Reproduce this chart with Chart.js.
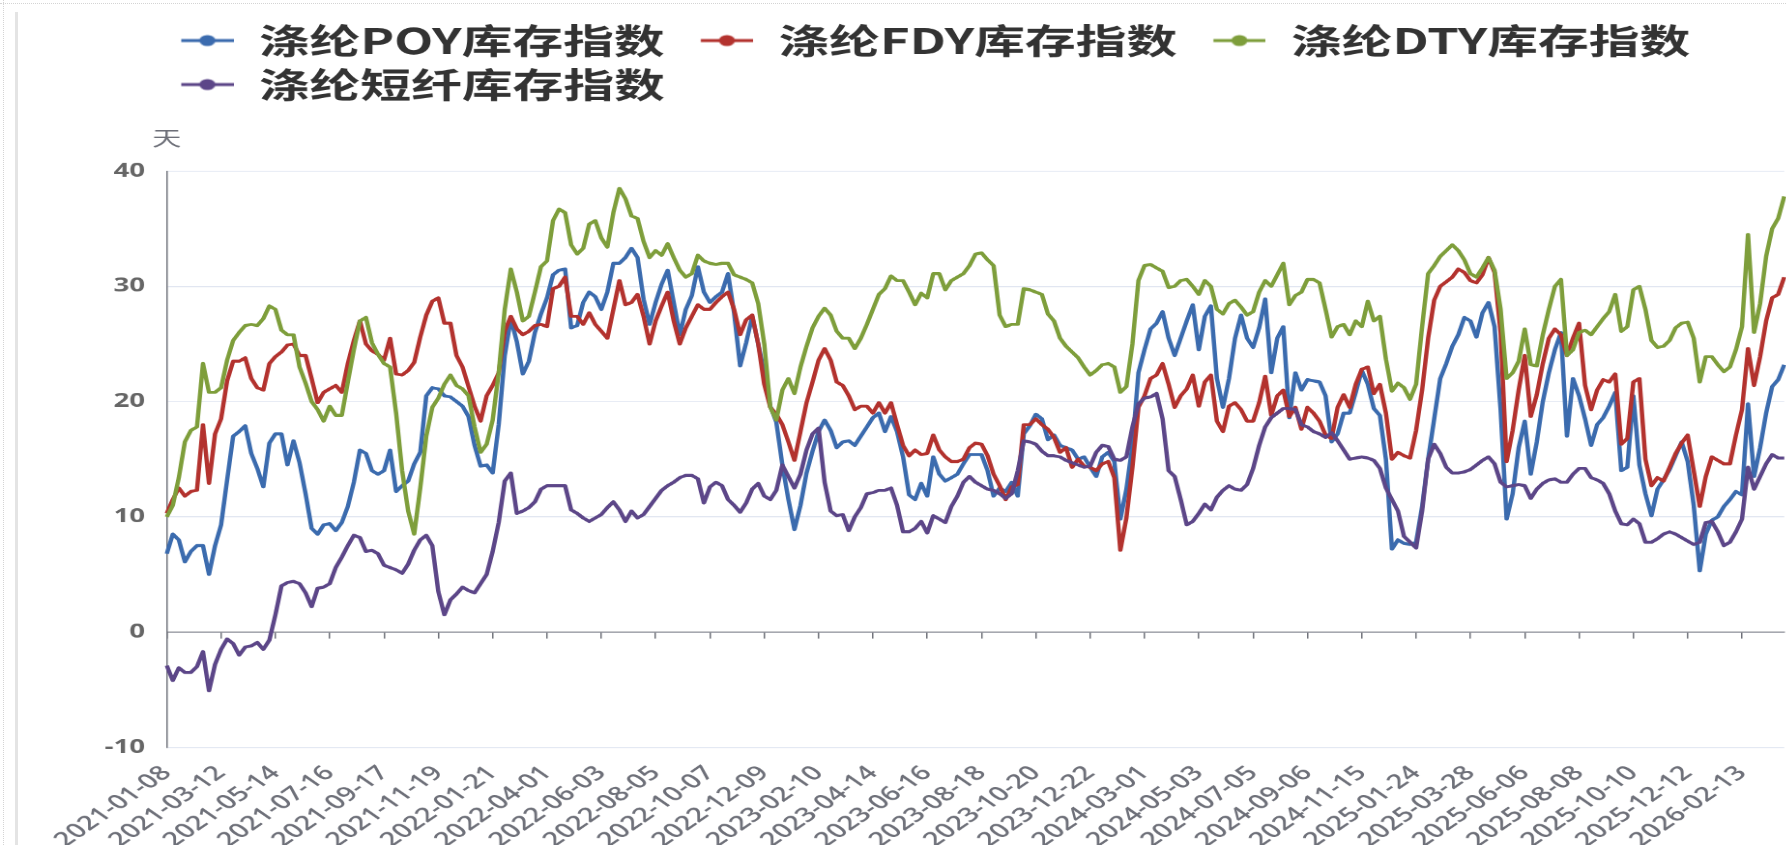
<!DOCTYPE html>
<html>
<head>
<meta charset="utf-8">
<script src="https://cdn.jsdelivr.net/npm/chart.js@4/dist/chart.umd.min.js"></script>
<style>
  html, body { margin: 0; padding: 0; background: #fff; width: 1786px; height: 845px; overflow: hidden; }
  #dotTop { position: absolute; left: 0; top: 3px; width: 1786px; border-top: 1px dotted #d4d4d4; }
  #dotLeft { position: absolute; left: 3px; top: 0; height: 845px; border-left: 1px dotted #d4d4d4; }
  #bar { position: absolute; left: 15px; top: 12px; height: 833px; border-left: 3px solid #e4e4e4; }
  #wrap { position: absolute; left: 0; top: 0; width: 1232px; height: 845px; transform: scaleX(1.45); transform-origin: 0 0; }
</style>
</head>
<body>
<div id="dotTop"></div><div id="dotLeft"></div><div id="bar"></div>
<div id="wrap"><canvas id="c"></canvas></div>
<script>
// ---------- data ----------
const firstWeek = '2021-01-08';
const pointCount = 269;
const skippedWeeks = ['2022-02-04', '2024-02-16', '2024-10-04', '2025-01-03', '2025-05-02', '2026-02-20'];
const tickLabels = ['2021-01-08','2021-03-12','2021-05-14','2021-07-16','2021-09-17','2021-11-19','2022-01-21','2022-04-01','2022-06-03','2022-08-05','2022-10-07','2022-12-09','2023-02-10','2023-04-14','2023-06-16','2023-08-18','2023-10-20','2023-12-22','2024-03-01','2024-05-03','2024-07-05','2024-09-06','2024-11-15','2025-01-24','2025-03-28','2025-06-06','2025-08-08','2025-10-10','2025-12-12','2026-02-13'];
const yTicks = [-10, 0, 10, 20, 30, 40];
const yUnit = '天';
const seriesNames = ['涤纶POY库存指数', '涤纶FDY库存指数', '涤纶DTY库存指数', '涤纶短纤库存指数'];
const seriesColors = ['#3B6BAE', '#B3322E', '#7E9E3B', '#5C4688'];

const poy = [
  6.8, 8.5, 8.0, 6.1, 7.0, 7.5, 7.5, 5.0, 7.5, 9.3,
  13.2, 17.0, 17.4, 17.9, 15.5, 14.2, 12.6, 16.4, 17.2, 17.2,
  14.5, 16.6, 14.7, 12.0, 9.0, 8.5, 9.3, 9.4, 8.8, 9.5,
  10.9, 13.0, 15.8, 15.5, 14.0, 13.7, 14.0, 15.8, 12.2, 12.7,
  13.1, 14.6, 15.6, 20.5, 21.2, 21.1, 20.5, 20.4, 20.0, 19.6,
  18.7, 16.2, 14.4, 14.5, 13.8, 18.0, 24.0, 27.2, 25.2, 22.4,
  23.5, 26.0, 27.6, 29.0, 31.0, 31.4, 31.5, 26.4, 26.6, 28.6,
  29.5, 29.1, 28.0, 29.5, 32.0, 32.0, 32.5, 33.3, 32.5, 28.9,
  26.7, 28.6, 30.2, 31.4, 28.6, 25.8, 28.0, 29.2, 31.7, 29.5,
  28.6, 29.1, 29.5, 31.1, 27.7, 23.1, 25.1, 27.4, 25.0, 22.5,
  19.6, 18.2, 14.5, 11.5, 8.9, 11.0, 13.8, 15.7, 17.4, 18.4,
  17.5, 16.0, 16.5, 16.6, 16.2, 17.0, 17.8, 18.6, 19.0, 17.4,
  18.7, 17.4, 15.2, 11.9, 11.5, 12.9, 11.8, 15.2, 13.7, 13.1,
  13.4, 13.7, 14.6, 15.4, 15.4, 15.4, 14.0, 11.8, 12.5, 12.2,
  13.0, 11.8, 17.2, 17.9, 18.9, 18.5, 16.7, 17.1, 16.2, 16.0,
  15.8, 15.0, 15.2, 14.3, 13.5, 15.2, 15.6, 14.8, 9.8, 12.4,
  16.2, 22.5, 24.5, 26.3, 26.8, 27.8, 25.5, 24.0, 25.5, 27.0,
  28.4, 24.5, 27.4, 28.3, 22.0, 19.5, 22.0, 25.5, 27.5, 25.5,
  24.7, 26.4, 28.9, 22.5, 25.5, 26.5, 18.6, 22.5, 21.0, 21.9,
  21.8, 21.7, 20.5, 16.5, 17.2, 19.0, 19.0, 20.8, 22.7, 21.5,
  19.4, 18.8, 15.0, 7.2, 8.0, 7.7, 7.6, 7.8, 10.9, 15.0,
  18.5, 22.0, 23.3, 24.8, 25.8, 27.3, 27.0, 25.6, 27.7, 28.6,
  26.5, 19.3, 9.8, 12.0, 16.0, 18.3, 13.7, 16.5, 20.0, 22.5,
  24.5, 26.0, 17.0, 22.0, 20.5, 18.5, 16.2, 18.0, 18.6, 19.6,
  20.8, 14.0, 14.3, 20.5, 14.5, 12.0, 10.1, 12.4, 13.2, 14.1,
  15.3, 16.5, 14.8, 11.0, 5.3, 8.5, 9.7, 10.0, 10.9, 11.5,
  12.2, 11.9, 19.8, 13.5, 16.0, 19.0, 21.3, 21.9, 23.2
];
const fdy = [
  10.3, 11.5, 12.5, 11.8, 12.2, 12.3, 18.0, 12.9, 17.2, 18.5,
  21.8, 23.5, 23.5, 23.8, 22.0, 21.2, 21.0, 23.3, 23.9, 24.3,
  24.9, 25.0, 24.0, 24.0, 22.0, 19.9, 20.8, 21.1, 21.4, 20.8,
  23.3, 25.3, 27.0, 25.0, 24.4, 24.1, 23.6, 25.5, 22.4, 22.3,
  22.7, 23.4, 25.6, 27.5, 28.7, 29.0, 26.8, 26.8, 24.0, 23.0,
  21.3, 19.6, 18.3, 20.5, 21.4, 22.5, 26.1, 27.4, 26.3, 25.8,
  26.1, 26.6, 26.7, 26.5, 29.8, 30.0, 30.8, 27.4, 27.4, 26.7,
  27.7, 26.7, 26.1, 25.5, 28.0, 30.5, 28.4, 28.6, 29.3, 27.4,
  25.0, 27.0, 28.3, 29.5, 27.0, 25.0, 26.4, 27.4, 28.4, 28.0,
  28.0, 28.6, 29.1, 29.5, 28.0, 25.8, 27.1, 27.5, 25.0, 21.5,
  19.5, 18.9, 18.0, 16.5, 14.9, 17.4, 19.9, 21.7, 23.6, 24.6,
  23.6, 21.7, 21.4, 20.5, 19.3, 19.6, 19.6, 19.0, 19.9, 19.0,
  19.9, 18.0, 16.2, 15.3, 15.8, 15.4, 15.5, 17.1, 15.8, 15.2,
  14.8, 14.8, 15.0, 16.0, 16.4, 16.3, 15.3, 13.7, 12.7, 11.5,
  12.6, 12.8, 18.0, 18.0, 18.5, 18.0, 17.6, 16.9, 15.6, 16.0,
  14.3, 15.0, 14.4, 14.3, 14.0, 14.6, 14.8, 13.4, 7.1, 9.9,
  14.3, 19.5, 20.5, 22.0, 22.3, 23.3, 21.5, 19.5, 20.5, 21.1,
  22.3, 19.6, 21.7, 22.3, 18.3, 17.4, 19.6, 19.9, 19.3, 18.3,
  18.3, 19.9, 22.2, 18.8, 20.5, 21.0, 18.7, 19.5, 17.6, 19.5,
  19.0, 18.3, 17.1, 16.8, 19.5, 20.6, 19.5, 21.5, 22.8, 23.0,
  20.7, 21.5, 19.0, 15.0, 15.6, 15.3, 15.1, 17.5, 21.0, 25.5,
  28.8, 30.0, 30.4, 30.8, 31.5, 31.2, 30.5, 30.3, 31.0, 32.5,
  31.2, 26.0, 14.8, 17.5, 21.0, 24.0, 18.7, 20.6, 23.3, 25.5,
  26.3, 25.8, 24.0, 25.5, 26.8, 21.4, 19.3, 21.0, 21.9, 21.7,
  22.4, 16.3, 16.8, 21.7, 22.0, 15.0, 12.7, 13.4, 13.1, 14.3,
  15.5, 16.4, 17.1, 14.0, 10.9, 13.5, 15.2, 14.9, 14.6, 14.6,
  17.1, 19.3, 24.6, 21.4, 23.9, 27.0, 29.0, 29.3, 30.8
];
const dty = [
  10.0, 11.0, 13.4, 16.5, 17.5, 17.8, 23.3, 20.8, 20.8, 21.2,
  23.6, 25.3, 26.0, 26.6, 26.7, 26.6, 27.2, 28.3, 28.0, 26.2,
  25.8, 25.8, 23.0, 21.6, 20.0, 19.3, 18.3, 19.6, 18.8, 18.8,
  21.7, 24.5, 27.0, 27.3, 25.1, 24.1, 23.3, 23.0, 19.0, 14.0,
  10.5, 8.5, 12.5, 17.0, 19.5, 20.3, 21.5, 22.3, 21.4, 21.1,
  20.5, 17.8, 15.6, 16.3, 18.4, 22.5, 28.0, 31.5, 29.5, 27.0,
  27.4, 29.5, 31.7, 32.2, 35.7, 36.7, 36.4, 33.6, 32.8, 33.3,
  35.4, 35.7, 34.2, 33.4, 36.4, 38.5, 37.6, 36.1, 35.9, 33.9,
  32.5, 33.1, 32.7, 33.7, 32.5, 31.4, 30.8, 31.1, 32.7, 32.2,
  32.0, 31.9, 32.0, 32.0, 31.0, 30.8, 30.6, 30.3, 28.5, 25.0,
  19.5, 18.4, 21.0, 22.0, 20.7, 23.0, 24.8, 26.4, 27.4, 28.1,
  27.5, 26.1, 25.5, 25.5, 24.6, 25.5, 26.7, 28.0, 29.3, 29.8,
  30.9, 30.5, 30.5, 29.5, 28.4, 29.4, 29.0, 31.1, 31.1, 29.7,
  30.5, 30.8, 31.1, 31.8, 32.8, 32.9, 32.3, 31.8, 27.5, 26.5,
  26.7, 26.7, 29.8, 29.7, 29.5, 29.3, 27.6, 27.0, 25.5, 24.8,
  24.3, 23.8, 23.0, 22.3, 22.7, 23.2, 23.3, 23.0, 20.8, 21.3,
  25.0, 30.5, 31.8, 31.9, 31.6, 31.3, 29.9, 30.0, 30.5, 30.6,
  30.0, 29.3, 30.5, 30.0, 28.0, 27.6, 28.5, 28.8, 28.2, 27.5,
  27.8, 29.5, 30.5, 30.0, 31.0, 32.0, 28.4, 29.2, 29.5, 30.6,
  30.6, 30.3, 28.0, 25.6, 26.5, 26.7, 25.8, 27.0, 26.5, 28.7,
  27.0, 27.4, 23.7, 20.9, 21.6, 21.2, 20.2, 21.5, 26.5, 31.1,
  31.8, 32.6, 33.1, 33.6, 33.1, 32.3, 31.1, 30.8, 31.6, 32.5,
  31.4, 28.0, 22.0, 22.5, 23.5, 26.3, 23.2, 23.1, 25.8, 28.0,
  30.0, 30.6, 24.0, 24.5, 26.0, 26.2, 25.8, 26.5, 27.2, 27.8,
  29.3, 26.1, 26.5, 29.7, 30.0, 28.0, 25.3, 24.7, 24.8, 25.3,
  26.4, 26.8, 26.9, 25.5, 21.7, 23.9, 23.9, 23.2, 22.6, 23.0,
  24.5, 26.5, 34.5, 26.0, 28.5, 32.6, 35.0, 35.9, 37.8
];
const staple = [
  -2.9, -4.2, -3.1, -3.5, -3.5, -3.0, -1.7, -5.1, -2.8, -1.5,
  -0.6, -1.0, -2.0, -1.3, -1.2, -0.9, -1.5, -0.7, 1.5, 4.0,
  4.3, 4.4, 4.2, 3.4, 2.2, 3.8, 3.9, 4.2, 5.6, 6.5,
  7.5, 8.4, 8.2, 7.0, 7.1, 6.8, 5.8, 5.6, 5.4, 5.1,
  5.9, 7.1, 8.0, 8.4, 7.5, 3.5, 1.5, 2.8, 3.3, 3.9,
  3.6, 3.4, 4.2, 5.0, 7.0, 9.5, 13.1, 13.8, 10.3, 10.5,
  10.8, 11.3, 12.4, 12.7, 12.7, 12.7, 12.7, 10.6, 10.3, 9.9,
  9.6, 9.9, 10.2, 10.8, 11.3, 10.6, 9.6, 10.5, 9.9, 10.2,
  10.9, 11.6, 12.3, 12.7, 13.0, 13.4, 13.6, 13.6, 13.3, 11.2,
  12.6, 13.0, 12.7, 11.5, 11.0, 10.4, 11.2, 12.4, 12.9, 11.8,
  11.5, 12.3, 14.5, 13.5, 12.5, 13.7, 15.8, 17.2, 17.7, 13.0,
  10.5, 10.1, 10.2, 8.8, 10.0, 10.8, 12.0, 12.1, 12.3, 12.3,
  12.5, 11.0, 8.7, 8.7, 9.0, 9.6, 8.6, 10.1, 9.8, 9.5,
  10.9, 11.8, 13.0, 13.5, 13.0, 12.7, 12.4, 12.3, 12.0, 11.6,
  12.0, 14.0, 16.6, 16.5, 16.3, 15.7, 15.3, 15.3, 15.2, 14.9,
  14.7, 14.5, 14.3, 14.4, 15.6, 16.2, 16.1, 15.0, 14.9, 15.2,
  17.8, 19.8, 20.3, 20.4, 20.7, 18.5, 14.0, 13.5, 11.5, 9.3,
  9.6, 10.3, 11.1, 10.6, 11.7, 12.3, 12.7, 12.4, 12.3, 12.8,
  14.2, 16.2, 17.8, 18.6, 19.0, 19.4, 19.4, 19.3, 18.0, 17.8,
  17.4, 17.2, 16.9, 17.3, 16.6, 15.8, 15.0, 15.1, 15.2, 15.1,
  14.9, 14.2, 12.5, 11.5, 10.5, 8.3, 7.8, 7.3, 10.5, 15.0,
  16.3, 15.5, 14.3, 13.8, 13.8, 13.9, 14.1, 14.5, 14.9, 15.2,
  14.6, 13.0, 12.6, 12.7, 12.8, 12.7, 11.6, 12.4, 12.9, 13.2,
  13.3, 13.0, 13.0, 13.7, 14.2, 14.2, 13.4, 13.2, 12.9, 12.0,
  10.5, 9.4, 9.3, 9.8, 9.4, 7.8, 7.8, 8.1, 8.5, 8.7,
  8.5, 8.2, 7.9, 7.6, 7.8, 9.5, 9.6, 8.7, 7.5, 7.8,
  8.7, 9.8, 14.3, 12.4, 13.5, 14.6, 15.4, 15.1, 15.1
];

// ---------- categories (weekly Fridays, with the weeks the source skipped) ----------
function buildWeeks() {
  const out = [];
  const d = new Date(firstWeek + 'T00:00:00Z');
  while (out.length < pointCount) {
    const s = d.toISOString().slice(0, 10);
    if (!skippedWeeks.includes(s)) out.push(s);
    d.setUTCDate(d.getUTCDate() + 7);
  }
  return out;
}
const categories = buildWeeks();

// ---------- styling ----------
const axisGray = '#6E7079';
const labelFont = '"Open Sans", "Noto Sans", "Noto Sans CJK SC", sans-serif';
const cjkFont = '"Noto Sans CJK SC", "Noto Sans", sans-serif';
const legendFontSize = 35;
const legendPad = 9;
const iconMargin = 16;
const legendHeight = 157;
const legendShift = 100;
const tickSet = new Set(tickLabels);
const keepLabelTicks = (scale) => { scale.ticks = scale.ticks.filter(t => tickSet.has(categories[t.value])); };

function legendIcon(color) {
  const c = document.createElement('canvas');
  c.width = iconMargin + 36; c.height = 16;
  const g = c.getContext('2d');
  g.strokeStyle = color; g.lineWidth = 3;
  g.beginPath(); g.moveTo(iconMargin, 8); g.lineTo(iconMargin + 36, 8); g.stroke();
  g.fillStyle = color;
  g.beginPath(); g.arc(iconMargin + 18, 8, 5.5, 0, Math.PI * 2); g.fill();
  return c;
}

const seriesValues = [poy, fdy, dty, staple];
const datasets = seriesValues.map((vals, k) => ({
  label: seriesNames[k],
  data: vals,
  borderColor: seriesColors[k],
  backgroundColor: seriesColors[k],
  borderWidth: 3,
  borderJoinStyle: 'round',
  pointRadius: 0,
  pointStyle: legendIcon(seriesColors[k]),
  tension: 0,
  fill: false,
  order: 4 - k
}));

const legendPlacement = {
  id: 'legendPlacement',
  afterInit(chart) {
    const lg = chart.legend;
    if (!lg) return;
    const fit = lg.fit.bind(lg);
    lg.fit = function () { fit(); this.height = legendHeight; };
  },
  afterLayout(chart) {
    const lg = chart.legend;
    if (lg) { lg.left += legendShift; lg.right += legendShift; }
  }
};

const unitLabel = {
  id: 'unitLabel',
  afterDraw(chart) {
    const { ctx, chartArea } = chart;
    ctx.save();
    ctx.font = '20px ' + cjkFont;
    ctx.fillStyle = axisGray;
    ctx.textAlign = 'center';
    ctx.textBaseline = 'middle';
    ctx.fillText(yUnit, chartArea.left, chartArea.top - 33);
    ctx.restore();
  }
};

new Chart(document.getElementById('c'), {
  type: 'line',
  data: { labels: categories, datasets },
  options: {
    responsive: true,
    maintainAspectRatio: false,
    animation: false,
    events: [],
    devicePixelRatio: 1.5,
    layout: { padding: { top: 14, left: 0, right: 0, bottom: 0 } },
    scales: {
      x: {
        type: 'category',
        position: { y: 0 },
        afterBuildTicks: keepLabelTicks,
        ticks: { display: false, autoSkip: false },
        grid: { display: true, drawOnChartArea: false, drawTicks: true, tickLength: 6, color: axisGray, lineWidth: 1, z: 0 },
        border: { display: true, color: axisGray, width: 1, z: 0 }
      },
      x2: {
        type: 'category',
        position: 'bottom',
        afterBuildTicks: keepLabelTicks,
        afterFit: (s) => { s.height = 98; },
        ticks: { autoSkip: false, maxRotation: 45, minRotation: 45, padding: 6, color: axisGray,
                 font: { family: labelFont, size: 20, weight: '600' } },
        grid: { display: false },
        border: { display: false }
      },
      y: {
        type: 'linear',
        min: yTicks[0],
        max: yTicks[yTicks.length - 1],
        afterBuildTicks: (s) => { s.ticks = yTicks.map(v => ({ value: v })); },
        afterFit: (s) => { s.width = 115; },
        ticks: { padding: 15, color: '#666', font: { family: labelFont, size: 19, weight: 'bold' } },
        grid: { color: '#E0E6F1', lineWidth: 1, drawTicks: false, z: -1 },
        border: { display: true, color: axisGray, width: 1 }
      }
    },
    plugins: {
      legend: {
        display: true,
        position: 'top',
        align: 'start',
        labels: {
          usePointStyle: true,
          pointStyleWidth: iconMargin + 36,
          boxHeight: 16,
          padding: legendPad,
          color: '#333',
          font: { family: cjkFont, size: legendFontSize, weight: 'bold' },
          sort: (a, b) => a.datasetIndex - b.datasetIndex
        }
      },
      title: { display: false },
      tooltip: { enabled: false }
    }
  },
  plugins: [legendPlacement, unitLabel]
});
</script>
</body>
</html>
